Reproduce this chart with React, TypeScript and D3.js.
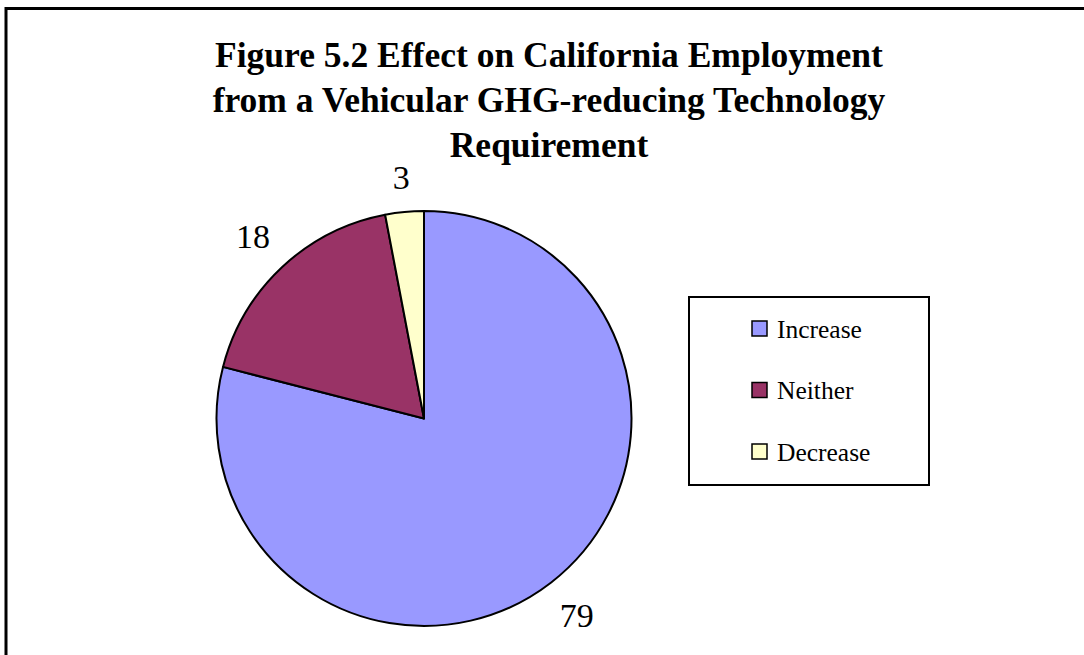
import React from "react";
import * as d3 from "d3";

const categories = ["Increase", "Neither", "Decrease"];
const values = [79, 18, 3];
const colors = ["#9999FF", "#993366", "#FFFFCC"];
const titleLines = [
  "Figure 5.2 Effect on California Employment",
  "from a Vehicular GHG-reducing Technology",
  "Requirement",
];

const W = 1084;
const H = 655;
const FONT = "'Liberation Serif', 'Times New Roman', serif";

export default function App() {
  const cx = 424;
  const cy = 418.5;
  const r = 207.5;
  const pie = d3.pie<number>().sort(null).value((d) => d);
  const arcs = pie(values);
  const arc = d3.arc<d3.PieArcDatum<number>>().innerRadius(0).outerRadius(r);

  const labelFont = 34;
  const gap = 22;
  const hh = 12;

  const legendX = 689;
  const legendY = 297;
  const legendW = 240;
  const legendH = 188;
  const rowY = d3.scalePoint<string>().domain(categories).range([329, 452]);

  return (
    <svg
      width={W}
      height={H}
      style={{ position: "absolute", left: 0, top: 0, background: "#fff" }}
      fontFamily={FONT}
    >
      <rect x={0} y={0} width={W} height={H} fill="#fff" />
      <rect x={6} y={8.5} width={1200} height={800} fill="#fff" stroke="#000" strokeWidth={3} />
      {titleLines.map((t, i) => (
        <text
          key={i}
          x={549}
          y={67 + i * 45}
          textAnchor="middle"
          fontSize={35.5}
          fontWeight="bold"
        >
          {t}
        </text>
      ))}
      <g transform={`translate(${cx},${cy})`}>
        {arcs.map((a, i) => (
          <path key={i} d={arc(a) || ""} fill={colors[i]} stroke="#000" strokeWidth={2} strokeLinejoin="round" />
        ))}
        {arcs.map((a, i) => {
          const mid = (a.startAngle + a.endAngle) / 2;
          const sx = Math.sin(mid);
          const sy = -Math.cos(mid);
          const label = String(values[i]);
          const hw = label.length * labelFont * 0.25;
          const dist = r + gap + hh * Math.abs(sy) + hw * Math.abs(sx);
          return (
            <text
              key={"l" + i}
              x={sx * dist}
              y={sy * dist}
              dy="0.35em"
              textAnchor="middle"
              fontSize={labelFont}
            >
              {label}
            </text>
          );
        })}
      </g>
      <rect x={legendX} y={legendY} width={legendW} height={legendH} fill="#fff" stroke="#000" strokeWidth={2} />
      {categories.map((c, i) => (
        <g key={c}>
          <rect
            x={752}
            y={(rowY(c) as number) - 8}
            width={15}
            height={15}
            fill={colors[i]}
            stroke="#000"
            strokeWidth={1.5}
          />
          <text x={777} y={(rowY(c) as number) + 8.5} fontSize={25.5}>
            {c}
          </text>
        </g>
      ))}
    </svg>
  );
}
